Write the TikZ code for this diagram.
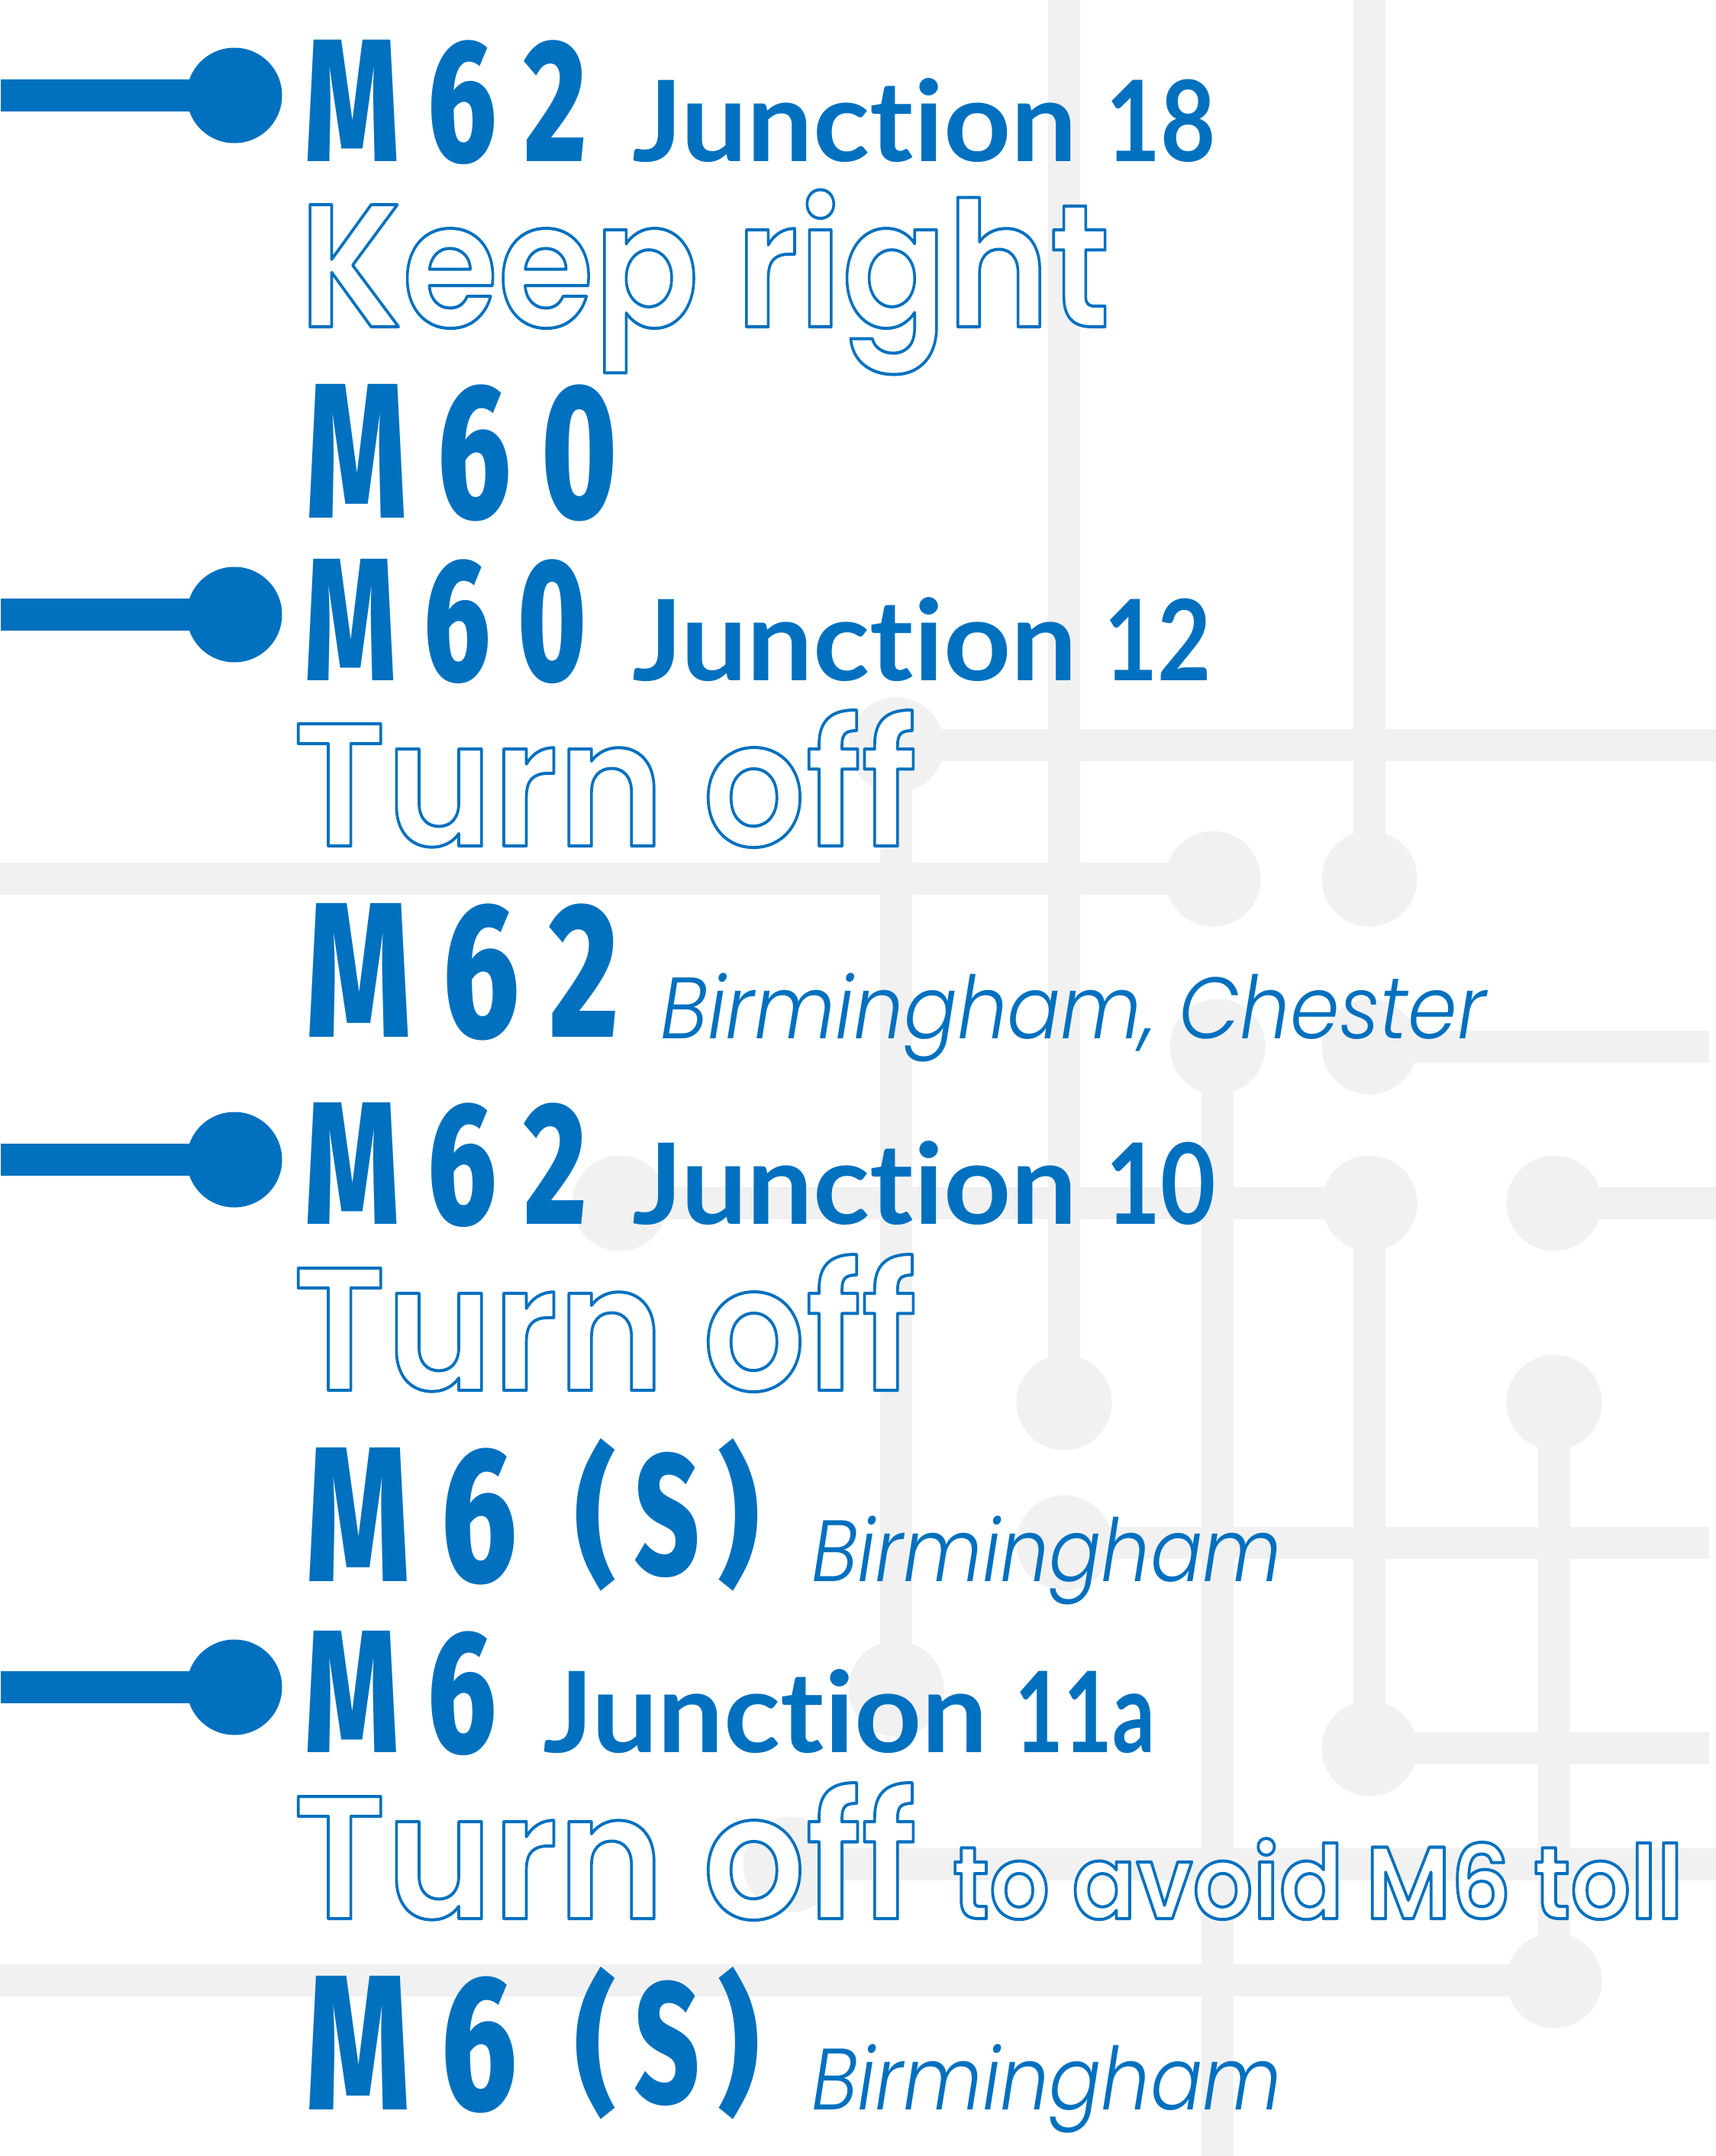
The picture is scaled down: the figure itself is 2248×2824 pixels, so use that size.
\documentclass[tikz,border=0pt]{standalone}
\usepackage{fontspec}
\usepackage{graphicx}
\newfontfamily\fcode{Fira Sans ExtraBold}[LetterSpace=24]
\newfontfamily\fplain{Fira Sans ExtraBold}
\newfontfamily\flato{Lato}[Ligatures=NoCommon]
\newfontfamily\fword{Poppins SemiBold}[Ligatures=NoCommon]
\newfontfamily\flight{Poppins Light}[ItalicFont=* Italic]
\definecolor{rblue}{rgb}{0,.44,.75}
\definecolor{rgrey}{HTML}{F1F1F1}
\newcommand{\fitw}[2]{\resizebox{#1pt}{\height}{#2}}
\newcommand{\outl}[1]{\special{pdf:code 2 Tr 4 w 1 j 1 1 1 rg 0 .44 .75 RG}#1\special{pdf:code 0 Tr 0 w 0 .44 .75 rg 0 .44 .75 RG}}
\newcommand{\codesm}[2]{\fitw{#1}{\fontsize{229}{229}\fcode #2}}
\newcommand{\codebg}[2]{\fitw{#1}{\fontsize{252}{252}\fcode #2}}
\newcommand{\codeS}{\codebg{276}{M6}\kern76pt\raisebox{19pt}{\fitw{53}{\fontsize{195}{195}\fplain(}}\kern25pt\raisebox{9pt}{\fitw{85}{\fontsize{225}{225}\fplain S}}\kern25pt\raisebox{19pt}{\fitw{53}{\fontsize{195}{195}\fplain)}}}
\newcommand{\junc}[3]{\fitw{583}{\fontsize{147}{147}\flato\bfseries Junction}\kern#1pt\fitw{#2}{\fontsize{147}{147}\flato\bfseries #3}}
\newcommand{\word}[2]{\fitw{#1}{\fontsize{229}{229}\fword\outl{#2}}}
\newcommand{\place}[2]{\fitw{#1}{\fontsize{114}{114}\flight\itshape #2}}
\tikzset{
 gdot/.style={circle,fill=rgrey,minimum size=125pt,inner sep=0pt,outer sep=0pt},
 bdot/.style={circle,fill=rblue,minimum size=125pt,inner sep=0pt,outer sep=0pt},
 gline/.style={draw=rgrey,line width=42pt},
 bline/.style={draw=rblue,line width=42pt},
 txt/.style={anchor=base west,inner sep=0pt,outer sep=0pt,text=rblue}
}
\begin{document}
\begin{tikzpicture}[x=1pt,y=-1pt]
\useasboundingbox (0,0) rectangle (2248,2824);
% grey network
\node[gdot] (ga) at (1174,976) {};
\node[gdot] (gb) at (1589,1151) {};
\node[gdot] (gc) at (1794,1151) {};
\node[gdot] (gd) at (1595,1371) {};
\node[gdot] (ge) at (1794,1371) {};
\node[gdot] (gf) at (812,1576) {};
\node[gdot] (gg) at (1794,1576) {};
\node[gdot] (gh) at (2036,1576) {};
\node[gdot] (gi) at (1394,1837) {};
\node[gdot] (gj) at (2036,1837) {};
\node[gdot] (gk) at (1394,2021) {};
\node[gdot] (gl) at (1174,2212) {};
\node[gdot] (gm) at (1794,2290) {};
\node[gdot] (gn) at (1036,2442) {};
\node[gdot] (go) at (2036,2594) {};
\coordinate (t1) at (1394,0);
\coordinate (t2) at (1794,0);
\coordinate (b1) at (1595,2824);
\coordinate (ra) at (2248,976);
\coordinate (rb) at (0,1151);
\coordinate (re) at (2239,1371);
\coordinate (rh) at (2248,1576);
\coordinate (rk) at (2239,2021);
\coordinate (rm) at (2239,2290);
\coordinate (rn) at (2248,2442);
\coordinate (ro) at (0,2594);
\draw[gline] (t1) -- (gi.center);
\draw[gline] (t2) -- (gc.center);
\draw[gline] (ga.center) -- (gl.center);
\draw[gline] (ga.center) -- (ra);
\draw[gline] (rb) -- (gb.center);
\draw[gline] (gd.center) -- (b1);
\draw[gline] (ge.center) -- (re);
\draw[gline] (gf.center) -- (gg.center);
\draw[gline] (gg.center) -- (gm.center);
\draw[gline] (gh.center) -- (rh);
\draw[gline] (gj.center) -- (go.center);
\draw[gline] (gk.center) -- (rk);
\draw[gline] (gm.center) -- (rm);
\draw[gline] (gn.center) -- (rn);
\draw[gline] (ro) -- (go.center);
% blue pointers
\node[bdot] (d1) at (307,125) {};
\node[bdot] (d2) at (307,805) {};
\node[bdot] (d3) at (307,1519) {};
\node[bdot] (d4) at (307,2210) {};
\coordinate (l1) at (1,125);
\coordinate (l2) at (1,805);
\coordinate (l3) at (1,1519);
\coordinate (l4) at (1,2210);
\draw[bline] (l1) -- (d1.center);
\draw[bline] (l2) -- (d2.center);
\draw[bline] (l3) -- (d3.center);
\draw[bline] (l4) -- (d4.center);
% text
\node[txt] (a1) at (399,211) {\codesm{370}{M62}};
\node[txt] (a2) at (828,211) {\junc{37}{145}{18}};
\node[txt] (a3) at (392,428) {\word{1062}{Keep right}};
\node[txt] (a4) at (401,678) {\codebg{408}{M60}};
\node[txt] (b1t) at (399,891) {\codesm{370}{M60}};
\node[txt] (b2) at (828,891) {\junc{35}{141}{12}};
\node[txt] (b3) at (384,1108) {\word{817}{Turn off}};
\node[txt] (b4) at (401,1358) {\codebg{410}{M62}};
\node[txt] (b5) at (865,1360) {\place{1082}{Birmingham, Chester}};
\node[txt] (c1) at (399,1603) {\codesm{370}{M62}};
\node[txt] (c2) at (828,1603) {\junc{37}{145}{10}};
\node[txt] (c3) at (384,1821) {\word{817}{Turn off}};
\node[txt] (c4) at (401,2071) {\codeS};
\node[txt] (c5) at (1063,2071) {\place{616}{Birmingham}};
\node[txt] (e1) at (399,2295) {\codesm{251}{M6}};
\node[txt] (e2) at (711,2295) {\junc{35}{184}{11a}};
\node[txt] (e3) at (384,2513) {\word{817}{Turn off}};
\node[txt] (e4) at (1248,2513) {\fitw{957}{\fontsize{134}{134}\fword\outl{to avoid M6 toll}}};
\node[txt] (f1) at (401,2763) {\codeS};
\node[txt] (f2) at (1063,2763) {\place{616}{Birmingham}};
\end{tikzpicture}
\end{document}
